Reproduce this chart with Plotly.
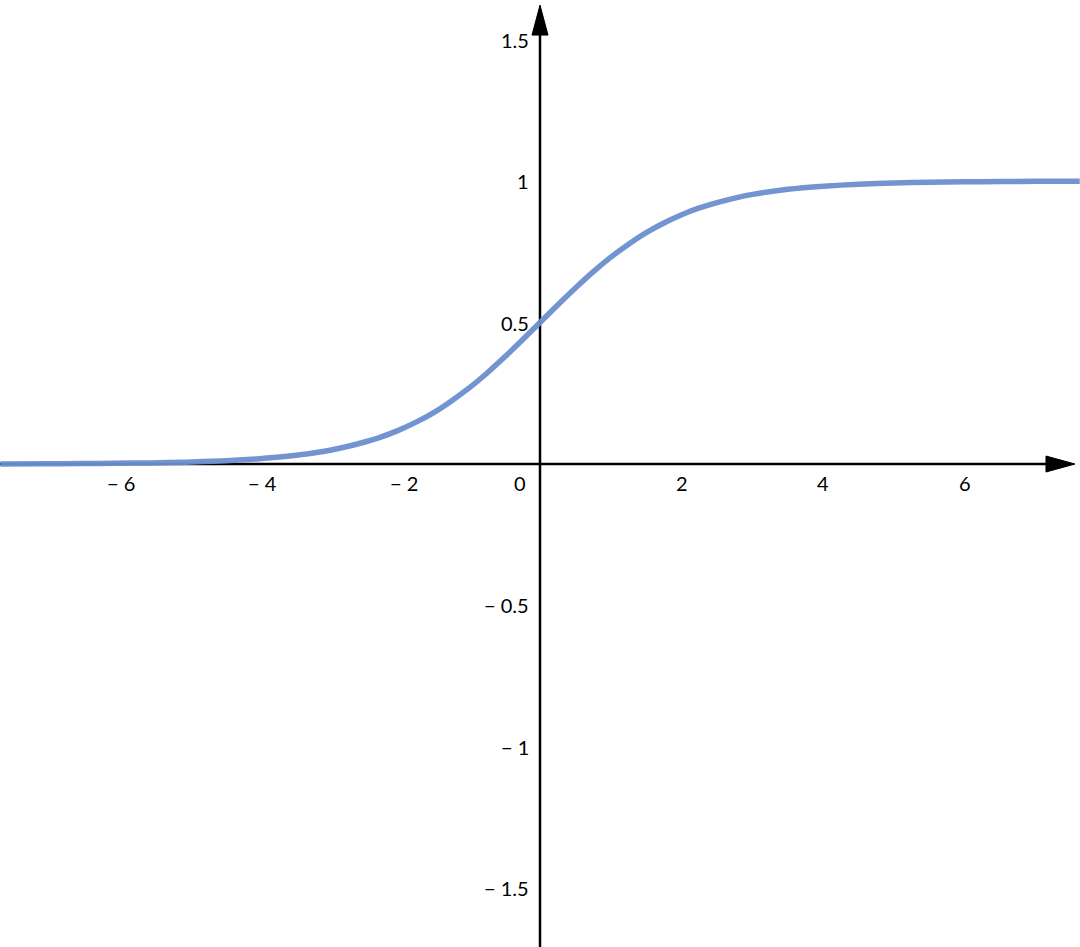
import plotly.graph_objects as go

# Curve samples
x_vals = [-7.62, -7, -6.5, -6, -5.5, -5, -4.5, -4, -3.5, -3, -2.75, -2.5, -2.25, -2,
          -1.75, -1.5, -1.25, -1, -0.75, -0.5, -0.25, 0, 0.25, 0.5, 0.75, 1, 1.25,
          1.5, 1.75, 2, 2.25, 2.5, 2.75, 3, 3.5, 4, 4.5, 5, 5.5, 6, 6.5, 7, 7.62]
y_vals = [0.0005, 0.0009, 0.0015, 0.0025, 0.004, 0.0067, 0.011, 0.018, 0.029, 0.047,
          0.060, 0.076, 0.095, 0.119, 0.148, 0.182, 0.223, 0.269, 0.321, 0.378,
          0.438, 0.5, 0.562, 0.622, 0.679, 0.731, 0.777, 0.818, 0.852, 0.881,
          0.905, 0.924, 0.940, 0.953, 0.971, 0.982, 0.989, 0.993, 0.996, 0.9975,
          0.9985, 0.999, 0.9995]

x_ticks = [-6, -4, -2, 0, 2, 4, 6]
x_tick_labels = ["\u2212 6", "\u2212 4", "\u2212 2", "0", "2", "4", "6"]
y_ticks = [-1.5, -1, -0.5, 0.5, 1, 1.5]
y_tick_labels = ["\u2212 1.5", "\u2212 1", "\u2212 0.5", "0.5", "1", "1.5"]

X_RANGE = [-7.624, 7.624]
Y_RANGE = [-1.707, 1.640]

FONT = dict(family="Lato, 'Open Sans', sans-serif", size=20, color="black")

fig = go.Figure()
fig.add_trace(go.Scatter(
    x=x_vals, y=y_vals, mode="lines",
    line=dict(color="#6b8fcf", width=5.5, shape="spline", smoothing=0.5),
    opacity=0.95, hoverinfo="skip", showlegend=False,
))

shapes = [
    # x axis line
    dict(type="line", xref="x", yref="y", x0=X_RANGE[0], x1=7.2, y0=0, y1=0,
         line=dict(color="black", width=2.5), layer="below"),
    # y axis line
    dict(type="line", xref="x", yref="y", x0=0, x1=0, y0=Y_RANGE[0], y1=1.55,
         line=dict(color="black", width=2.5), layer="below"),
    # x arrow head (pixel-sized, anchored at tip)
    dict(type="path", xref="x", yref="y", xsizemode="pixel", ysizemode="pixel",
         xanchor=7.553, yanchor=0,
         path="M 0 0 L -29 8 L -29 -8 Z", fillcolor="black",
         line=dict(color="black", width=1), layer="above"),
    # y arrow head
    dict(type="path", xref="x", yref="y", xsizemode="pixel", ysizemode="pixel",
         xanchor=0, yanchor=1.622,
         path="M 0 0 L -8 -30 L 8 -30 Z", fillcolor="black",
         line=dict(color="black", width=1), layer="above"),
]

annotations = []
for v, t in zip(x_ticks, x_tick_labels):
    shift = -20 if v == 0 else (6 if v < 0 else 0)
    annotations.append(dict(x=v, y=0, xref="x", yref="y", text=t, showarrow=False,
                            xanchor="center", yanchor="top", yshift=-5, xshift=shift,
                            font=FONT))
for v, t in zip(y_ticks, y_tick_labels):
    annotations.append(dict(x=0, y=v, xref="x", yref="y", text=t, showarrow=False,
                            xanchor="right", yanchor="middle", xshift=-9,
                            font=FONT))

fig.update_layout(
    width=1080, height=947,
    margin=dict(l=0, r=0, t=0, b=0),
    paper_bgcolor="white", plot_bgcolor="white",
    xaxis=dict(range=X_RANGE, visible=False, fixedrange=True),
    yaxis=dict(range=Y_RANGE, visible=False, fixedrange=True),
    shapes=shapes, annotations=annotations, showlegend=False,
)

fig.write_html("out.html", config={"displayModeBar": False},
               post_script="document.body.style.margin='0';document.body.style.overflow='hidden';")
